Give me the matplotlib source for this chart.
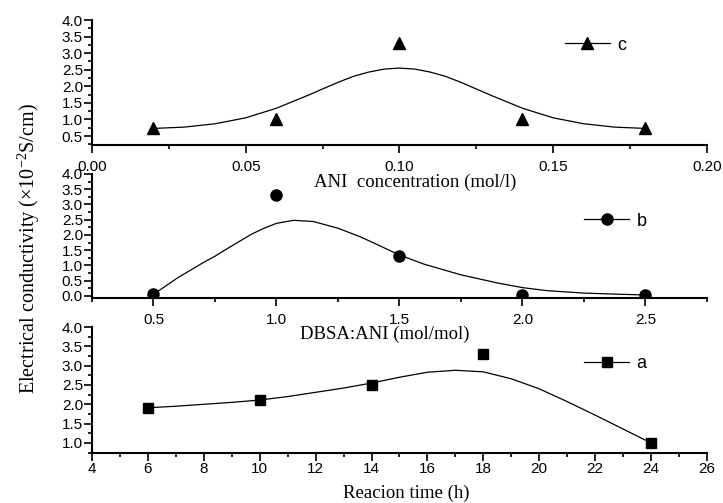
import matplotlib.pyplot as plt
from matplotlib.lines import Line2D
from matplotlib.ticker import MultipleLocator

# data
ani_conc = [0.02, 0.06, 0.10, 0.14, 0.18]
cond_c = [0.75, 1.0, 3.3, 1.0, 0.75]
fit_c_x = [0.02, 0.03, 0.04, 0.05, 0.06, 0.07, 0.08, 0.085, 0.09, 0.095, 0.10,
           0.105, 0.11, 0.115, 0.12, 0.13, 0.14, 0.15, 0.16, 0.17, 0.18]
fit_c_y = [0.73, 0.77, 0.87, 1.05, 1.34, 1.72, 2.12, 2.30, 2.43, 2.52, 2.55,
           2.52, 2.43, 2.30, 2.12, 1.72, 1.34, 1.05, 0.87, 0.77, 0.73]

dbsa_ratio = [0.5, 1.0, 1.5, 2.0, 2.5]
cond_b = [0.05, 3.3, 1.3, 0.03, 0.02]
fit_b_x = [0.5, 0.6, 0.7, 0.75, 0.8, 0.9, 0.95, 1.0, 1.07, 1.15, 1.25, 1.34,
           1.4, 1.5, 1.6, 1.75, 1.9, 2.0, 2.1, 2.25, 2.4, 2.5]
fit_b_y = [0.05, 0.6, 1.08, 1.3, 1.55, 2.03, 2.22, 2.38, 2.48, 2.44, 2.22, 1.94,
           1.72, 1.34, 1.04, 0.69, 0.42, 0.27, 0.17, 0.09, 0.05, 0.03]

react_time = [6, 10, 14, 18, 24]
cond_a = [1.9, 2.1, 2.5, 3.3, 1.0]
fit_a_x = [6, 7, 8, 9, 10, 11, 12, 13, 14, 15, 16, 17, 18, 19, 20, 21, 22, 23, 24]
fit_a_y = [1.91, 1.95, 2.0, 2.05, 2.11, 2.2, 2.31, 2.42, 2.55, 2.7, 2.83, 2.88, 2.84,
           2.66, 2.4, 2.07, 1.72, 1.36, 1.0]

plt.rcParams['font.family'] = ['Liberation Sans', 'DejaVu Sans']
plt.rcParams['font.size'] = 11
plt.rcParams['mathtext.fontset'] = 'custom'
plt.rcParams['mathtext.rm'] = 'Liberation Serif'

fig = plt.figure(figsize=(7.23, 5.03), dpi=100)
ax_c = fig.add_axes([0.1272, 0.7117, 0.8506, 0.2485])
ax_b = fig.add_axes([0.1272, 0.4076, 0.8506, 0.2465])
ax_a = fig.add_axes([0.1272, 0.0994, 0.8506, 0.2505])

serif = ['Liberation Serif', 'DejaVu Serif']

# axes, x, y, fit x, fit y, marker, size, legend label, legend anchor, xtick pad
panels = [
    (ax_c, ani_conc, cond_c, fit_c_x, fit_c_y, '^', 8, 'c', (0.769, 0.80), 5),
    (ax_b, dbsa_ratio, cond_b, fit_b_x, fit_b_y, 'o', 8, 'b', (0.80, 0.62), 5),
    (ax_a, react_time, cond_a, fit_a_x, fit_a_y, 's', 7, 'a', (0.80, 0.71), 1),
]

for ax, x, y, fx, fy, mk, ms, lab, anchor, xpad in panels:
    ax.patch.set_visible(False)
    ax.plot(fx, fy, color='black', lw=0.9)
    ax.plot(x, y, linestyle='none', marker=mk, ms=ms, color='black')
    for s in ['top', 'right']:
        ax.spines[s].set_visible(False)
    for s in ['left', 'bottom']:
        ax.spines[s].set_linewidth(1.5)
    ax.tick_params(which='major', direction='out', length=5.5, width=1.2)
    ax.tick_params(which='minor', direction='out', length=3, width=1.2)
    ax.tick_params(axis='y', which='major', pad=1)
    ax.tick_params(axis='x', which='major', pad=xpad)
    ax.yaxis.set_major_locator(MultipleLocator(0.5))
    ax.yaxis.set_minor_locator(MultipleLocator(0.25))
    ax.yaxis.set_major_formatter(lambda v, p: f'{v:.1f}')
    h = Line2D([], [], color='black', lw=0.9, marker=mk, ms=ms)
    ax.legend([h], [lab], loc='center left', bbox_to_anchor=anchor,
              frameon=False, handlelength=2.5, handletextpad=0.4,
              borderpad=0, borderaxespad=0, fontsize=13)

ax_c.set_xlim(0, 0.2)
ax_c.set_ylim(0.23, 4.0)
ax_c.xaxis.set_major_locator(MultipleLocator(0.05))
ax_c.xaxis.set_minor_locator(MultipleLocator(0.025))
ax_c.xaxis.set_major_formatter(lambda v, p: f'{v:.2f}')
ax_c.text(0.525, -0.30, 'ANI  concentration (mol/l)', transform=ax_c.transAxes,
          ha='center', va='center', family=serif, fontsize=13.5)

ax_b.set_xlim(0.25, 2.75)
ax_b.set_ylim(-0.07, 4.0)
ax_b.xaxis.set_major_locator(MultipleLocator(0.5))
ax_b.xaxis.set_minor_locator(MultipleLocator(0.25))
ax_b.text(0.476, -0.295, 'DBSA:ANI (mol/mol)', transform=ax_b.transAxes,
          ha='center', va='center', family=serif, fontsize=13.5)

ax_a.set_xlim(4, 26)
ax_a.set_ylim(0.74, 4.0)
ax_a.xaxis.set_major_locator(MultipleLocator(2))
ax_a.xaxis.set_minor_locator(MultipleLocator(1))
ax_a.text(0.511, -0.32, 'Reacion time (h)', transform=ax_a.transAxes,
          ha='center', va='center', family=serif, fontsize=13.5)

fig.text(0.040, 0.505, r'Electrical conductivity (×10$^{\mathregular{-2}}$S/cm)',
         rotation=90, ha='center', va='center', family=serif, fontsize=14.5)

plt.savefig('out.png', dpi=100)
plt.close()
